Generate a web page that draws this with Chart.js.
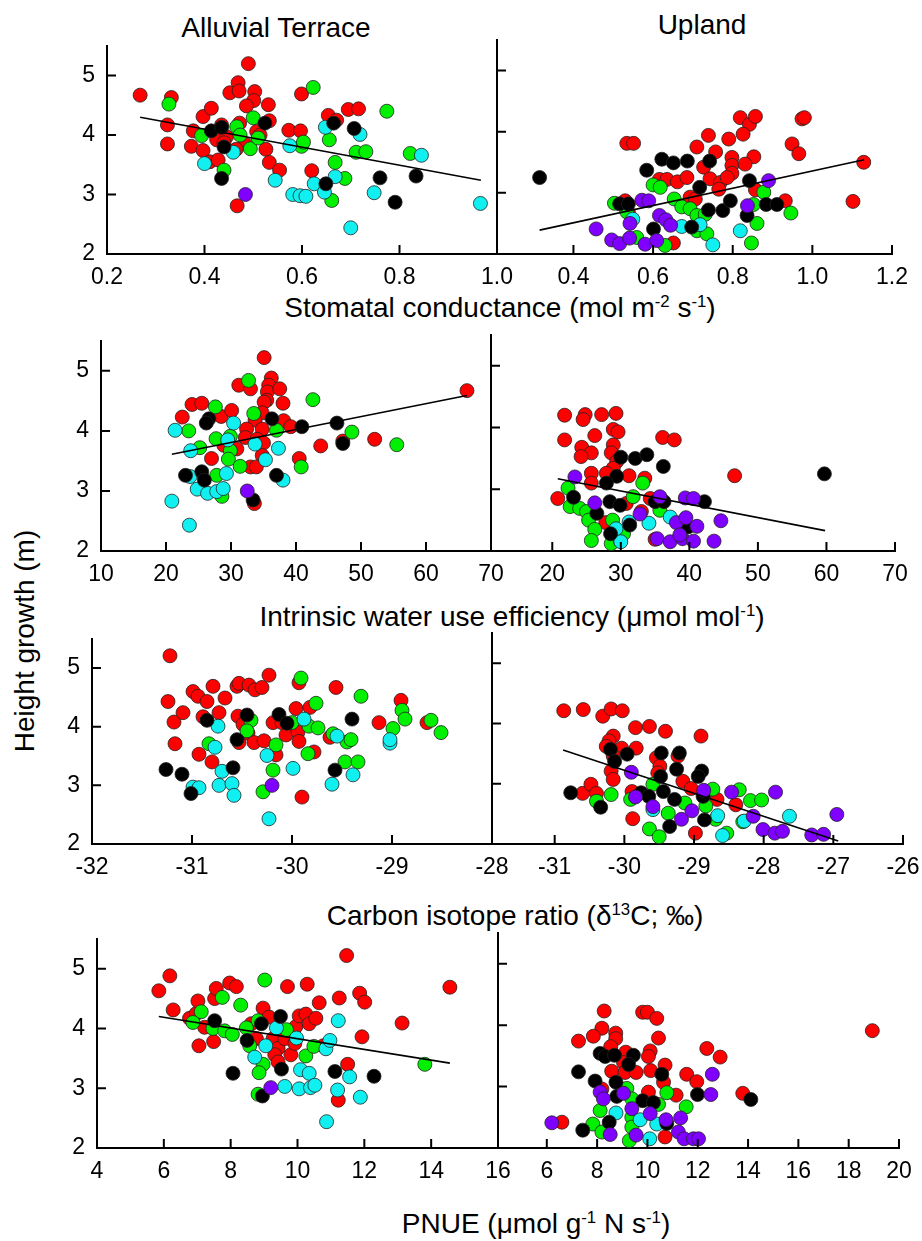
<!DOCTYPE html>
<html lang="en">
<head>
  <meta charset="UTF-8">
  <title>Height growth vs leaf traits</title>
  <script src="https://cdn.jsdelivr.net/npm/chart.js"></script>
  <style>
    body {
      margin: 0;
      background: #fff;
      font-family: "Liberation Sans", Arial, sans-serif;
    }

    #page {
      position: relative;
      width: 922px;
      height: 1241px;
      overflow: hidden;
    }

    canvas {
      position: absolute;
    }

    .label {
      position: absolute;
      transform: translate(-50%, -50%);
      font-size: 28px;
      line-height: 1;
      white-space: nowrap;
      color: #000;
    }

    .label sup {
      font-size: 0.6em;
      position: relative;
      top: -0.6em;
      vertical-align: baseline;
    }

    .ytitle {
      transform: translate(-50%, -50%) rotate(-90deg);
    }
  </style>
</head>
<body>
<div id="page">
  <div class="label" style="left:276px; top:28px;">Alluvial Terrace</div>
  <div class="label" style="left:702px; top:25px;">Upland</div>
  <div class="label ytitle" style="left:25px; top:641px;">Height growth (m)</div>
  <div class="label" style="left:500px; top:308px;">Stomatal conductance (mol m<sup>-2</sup> s<sup>-1</sup>)</div>
  <div class="label" style="left:512px; top:617px;">Intrinsic water use efficiency (μmol mol<sup>-1</sup>)</div>
  <div class="label" style="left:515px; top:916px;">Carbon isotope ratio (δ<sup>13</sup>C; ‰)</div>
  <div class="label" style="left:536px; top:1224px;">PNUE (μmol g<sup>-1</sup> N s<sup>-1</sup>)</div>

  <canvas id="atGs"></canvas>
  <canvas id="upGs"></canvas>
  <canvas id="atWue"></canvas>
  <canvas id="upWue"></canvas>
  <canvas id="atD13c"></canvas>
  <canvas id="upD13c"></canvas>
  <canvas id="atPnue"></canvas>
  <canvas id="upPnue"></canvas>
</div>

<script>
  // tick values
  const heightTicks = [2, 3, 4, 5];
  const gsTicksAT = [0.2, 0.4, 0.6, 0.8, 1.0];
  const gsTicksUP = [0.4, 0.6, 0.8, 1.0, 1.2];
  const wueTicksAT = [10, 20, 30, 40, 50, 60, 70];
  const wueTicksUP = [20, 30, 40, 50, 60, 70];
  const d13cTicksAT = [-32, -31, -30, -29, -28];
  const d13cTicksUP = [-31, -30, -29, -28, -27, -26];
  const pnueTicksAT = [4, 6, 8, 10, 12, 14, 16];
  const pnueTicksUP = [6, 8, 10, 12, 14, 16, 18, 20];

  // stomatal conductance, alluvial terrace
  const atGsRed = [[0.268,4.67],[0.332,4.63],[0.324,4.17],[0.324,3.85],[0.377,4.07],[0.373,3.81],[0.397,4.31],[0.414,4.45],[0.397,3.74],[0.411,3.55],[0.428,3.58],[0.425,3.92],[0.435,4.17],[0.445,3.97],[0.452,4.71],[0.469,4.88],[0.471,4.74],[0.49,5.2],[0.503,4.73],[0.501,4.58],[0.486,4.49],[0.483,3.85],[0.472,4.2],[0.465,3.76],[0.467,2.81],[0.507,4.06],[0.514,4.0],[0.533,4.24],[0.531,4.51],[0.526,3.76],[0.533,3.54],[0.554,3.41],[0.573,4.08],[0.597,4.07],[0.599,4.69],[0.62,3.4],[0.654,4.33],[0.671,4.25],[0.695,4.43],[0.716,4.44],[0.44,3.87]];
  const atGsGreen = [[0.327,4.52],[0.394,3.99],[0.44,3.41],[0.466,4.14],[0.473,4.0],[0.5,4.29],[0.494,3.77],[0.51,3.95],[0.623,4.8],[0.599,3.81],[0.603,3.88],[0.656,3.92],[0.668,3.54],[0.661,2.9],[0.688,3.27],[0.711,3.71],[0.731,3.72],[0.774,4.4],[0.822,3.69]];
  const atGsCyan = [[0.4,3.52],[0.459,3.71],[0.545,3.24],[0.575,3.82],[0.581,3.0],[0.596,2.98],[0.608,2.97],[0.625,3.18],[0.648,4.13],[0.646,3.04],[0.668,3.3],[0.7,2.44],[0.719,4.01],[0.748,3.03],[0.845,3.66],[0.966,2.85]];
  const atGsBlack = [[0.414,4.07],[0.435,4.13],[0.44,3.8],[0.435,3.27],[0.524,4.2],[0.649,3.18],[0.665,4.2],[0.707,4.11],[0.76,3.28],[0.791,2.87],[0.834,3.31]];
  const atGsPurple = [[0.484,3.0]];
  const atGsFit = [[0.268,4.30],[0.967,3.24]];

  // stomatal conductance, upland
  const upGsRed = [[0.534,3.81],[0.551,3.81],[0.616,3.22],[0.635,3.22],[0.661,3.18],[0.685,3.25],[0.71,3.75],[0.739,3.94],[0.757,3.67],[0.727,3.42],[0.743,3.23],[0.769,3.17],[0.765,3.06],[0.79,3.88],[0.798,3.58],[0.798,3.45],[0.798,3.32],[0.786,3.25],[0.819,4.23],[0.842,4.12],[0.857,4.25],[0.826,3.96],[0.853,3.59],[0.831,3.47],[0.857,3.05],[0.949,3.8],[0.966,3.64],[0.974,4.21],[0.98,4.23],[1.129,3.5],[1.102,2.86],[0.932,2.87],[0.693,2.93],[0.706,2.9],[0.651,2.18],[0.538,2.68],[0.53,2.87]];
  const upGsGreen = [[0.6,3.13],[0.618,3.09],[0.503,2.83],[0.653,2.9],[0.672,2.77],[0.693,2.74],[0.71,2.63],[0.731,2.65],[0.71,2.38],[0.735,2.33],[0.559,2.27],[0.63,2.14],[0.861,2.5],[0.847,2.18],[0.878,3.01],[0.946,2.67],[0.852,2.81],[0.534,2.69]];
  const upGsCyan = [[0.549,2.57],[0.672,2.45],[0.718,2.48],[0.75,2.15],[0.819,2.38]];
  const upGsBlack = [[0.315,3.25],[0.516,2.82],[0.538,2.82],[0.584,3.37],[0.622,3.55],[0.651,3.49],[0.686,3.52],[0.742,3.52],[0.717,3.09],[0.601,2.41],[0.697,2.44],[0.739,2.72],[0.775,2.71],[0.794,2.87],[0.836,2.63],[0.842,3.2],[0.884,2.81],[0.911,2.81]];
  const upGsPurple = [[0.457,2.41],[0.496,2.23],[0.516,2.17],[0.541,2.26],[0.542,2.5],[0.572,2.88],[0.589,2.87],[0.58,2.16],[0.609,2.22],[0.616,2.63],[0.632,2.56],[0.644,2.47],[0.837,2.79],[0.89,3.2]];
  const upGsFit = [[0.315,2.39],[1.13,3.54]];

  // intrinsic WUE, alluvial terrace
  const atWueRed = [[35.1,5.22],[36.2,4.88],[35.8,4.76],[35.6,4.65],[35.5,4.51],[35.1,4.48],[37.5,4.7],[38.0,4.46],[31.2,4.76],[33.0,4.7],[24.0,4.44],[25.5,4.46],[22.5,4.23],[28.5,4.24],[30.1,4.34],[34.8,4.3],[33.7,4.18],[32.4,4.03],[34.8,4.03],[32.2,3.89],[34.0,3.86],[35.0,3.8],[38.1,4.17],[39.2,4.07],[30.9,3.7],[28.9,3.76],[27.0,3.54],[34.8,3.59],[33.0,3.4],[33.9,3.4],[40.5,3.54],[43.8,3.75],[47.2,3.83],[52.1,3.86],[66.3,4.67],[33.6,2.79]];
  const atWueGreen = [[32.7,4.84],[27.6,4.4],[23.5,4.0],[25.2,3.72],[27.7,3.87],[29.9,3.91],[29.9,3.67],[29.6,3.53],[31.4,3.41],[27.8,3.26],[28.6,2.91],[33.5,4.29],[37.0,4.01],[42.6,4.52],[48.6,3.98],[55.5,3.77],[40.8,3.4]];
  const atWueCyan = [[21.4,4.01],[30.4,4.13],[29.5,3.85],[23.8,3.67],[33.7,3.78],[37.3,3.71],[35.3,3.52],[23.7,3.24],[29.3,3.29],[24.8,3.03],[26.4,2.96],[27.8,2.99],[28.8,3.04],[38.0,3.18],[20.9,2.83],[23.6,2.43]];
  const atWueBlack = [[26.6,4.2],[26.2,4.13],[36.3,4.2],[40.9,4.07],[46.3,4.13],[47.2,3.79],[23.0,3.26],[25.5,3.32],[25.9,3.18],[37.0,3.26],[33.4,2.85]];
  const atWuePurple = [[32.5,3.0]];
  const atWueFit = [[20.9,3.61],[66.3,4.59]];

  // intrinsic WUE, upland
  const upWueRed = [[21.8,4.2],[24.8,4.21],[24.5,4.13],[27.2,4.21],[29.3,4.23],[21.8,3.8],[26.2,3.87],[28.9,3.97],[29.6,3.93],[24.3,3.68],[25.7,3.59],[24.2,3.53],[28.9,3.72],[28.6,3.59],[29.4,3.45],[28.9,3.34],[25.7,3.26],[25.7,3.1],[27.9,3.26],[31.2,3.22],[33.5,3.18],[20.8,2.85],[36.1,3.84],[37.8,3.8],[46.6,3.22],[27.8,2.46],[35.0,2.19],[33.0,2.64],[30.8,2.77],[34.3,2.85]];
  const upWueGreen = [[22.3,3.02],[22.6,2.72],[24.0,2.69],[25.0,2.64],[25.3,2.5],[26.2,2.35],[25.7,2.17],[28.6,2.12],[29.9,2.17],[30.4,2.28],[31.8,2.88],[33.2,3.1],[35.7,2.66],[28.8,2.5]];
  const upWueCyan = [[29.3,2.36],[31.2,2.47],[34.1,2.45],[37.2,2.55],[30.0,2.15]];
  const upWueBlack = [[30.0,3.52],[32.1,3.5],[33.8,3.56],[36.2,3.37],[29.4,3.21],[27.9,3.1],[23.1,2.87],[28.4,2.8],[29.9,2.74],[26.5,2.61],[35.0,2.8],[36.3,2.8],[42.2,2.8],[39.8,2.39],[28.5,2.28],[31.3,2.42],[59.7,3.25]];
  const upWuePurple = [[23.3,3.2],[26.2,2.78],[35.7,2.88],[39.4,2.86],[40.6,2.85],[32.8,2.6],[38.1,2.46],[39.5,2.54],[41.1,2.4],[44.6,2.49],[35.3,2.2],[37.2,2.15],[39.0,2.2],[40.6,2.16],[43.6,2.16],[38.6,2.26]];
  const upWueFit = [[20.8,3.17],[59.8,2.33]];

  // carbon isotope ratio, alluvial terrace
  const atD13cRed = [[-31.22,5.21],[-31.24,4.43],[-31.18,4.08],[-31.09,4.24],[-31.17,3.71],[-30.99,4.6],[-30.94,4.52],[-30.85,4.43],[-30.79,4.69],[-30.67,4.49],[-30.89,4.17],[-30.73,4.24],[-30.93,3.53],[-30.8,3.4],[-30.55,4.69],[-30.53,4.74],[-30.43,4.71],[-30.37,4.63],[-30.3,4.67],[-30.23,4.88],[-30.54,4.18],[-30.49,4.04],[-30.44,3.89],[-30.53,3.73],[-30.38,3.73],[-30.28,3.76],[-30.19,4.07],[-30.1,4.07],[-30.06,3.86],[-30.16,3.52],[-29.96,4.31],[-29.94,3.91],[-29.93,3.75],[-29.93,4.75],[-29.82,4.33],[-29.78,3.57],[-29.9,2.8],[-29.62,3.82],[-29.56,4.67],[-29.13,4.07],[-28.91,4.45],[-28.65,4.07]];
  const atD13cGreen = [[-30.83,3.71],[-30.41,4.11],[-30.45,3.93],[-30.16,3.69],[-30.19,3.26],[-30.29,2.89],[-30.0,4.07],[-29.91,4.83],[-29.76,4.4],[-29.83,4.01],[-29.74,3.98],[-29.84,3.54],[-29.59,3.88],[-29.45,3.74],[-29.41,3.78],[-29.31,4.52],[-29.47,3.4],[-29.34,3.4],[-28.99,3.97],[-28.9,4.28],[-28.87,4.13],[-28.61,4.11],[-28.51,3.9]];
  const atD13cCyan = [[-30.74,4.01],[-30.77,3.65],[-30.7,3.24],[-30.99,2.97],[-30.93,2.96],[-30.73,3.0],[-30.6,3.03],[-30.58,2.83],[-30.25,3.51],[-29.99,3.29],[-30.23,2.43],[-29.88,4.13],[-29.6,3.02],[-29.55,3.84],[-29.39,3.18],[-29.02,3.72],[-29.02,3.78]];
  const atD13cBlack = [[-31.26,3.27],[-31.1,3.19],[-31.01,2.86],[-30.85,4.11],[-30.55,3.78],[-30.45,4.2],[-30.59,3.3],[-30.13,4.21],[-30.05,4.06],[-29.57,3.26],[-29.4,4.13]];
  const atD13cPurple = [[-30.2,3.0]];

  // carbon isotope ratio, upland
  const upD13cRed = [[-30.87,4.21],[-30.59,4.23],[-30.31,4.12],[-30.19,4.24],[-30.03,4.21],[-29.84,3.93],[-29.64,3.95],[-29.41,3.87],[-28.9,3.79],[-30.16,3.79],[-30.22,3.71],[-30.26,3.62],[-30.04,3.59],[-29.83,3.59],[-30.16,3.46],[-30.19,3.21],[-30.16,3.07],[-29.54,3.43],[-29.49,3.29],[-29.52,3.18],[-29.23,3.46],[-29.16,3.04],[-29.04,2.92],[-30.6,2.84],[-30.48,2.99],[-30.4,2.84],[-29.89,2.87],[-29.88,2.42],[-28.98,2.18],[-28.67,2.74],[-28.4,2.65]];
  const upD13cGreen = [[-30.19,2.82],[-30.4,2.71],[-29.91,2.74],[-29.59,2.99],[-29.37,2.51],[-29.64,2.25],[-29.5,2.12],[-29.13,2.68],[-28.73,2.91],[-28.83,2.63],[-28.69,2.41],[-28.53,2.18],[-28.35,2.9],[-28.19,2.72],[-28.03,2.73],[-28.3,2.37]];
  const upD13cCyan = [[-29.59,2.57],[-28.66,2.47],[-28.59,2.14],[-28.28,2.38],[-27.63,2.46]];
  const upD13cBlack = [[-30.77,2.85],[-30.34,2.61],[-30.2,3.57],[-30.14,3.37],[-29.96,3.49],[-29.47,3.51],[-29.21,3.51],[-29.25,3.24],[-29.48,3.12],[-29.44,2.87],[-29.76,2.85],[-29.65,2.79],[-29.28,2.74],[-28.89,3.21],[-28.94,3.12],[-28.85,2.4],[-29.35,2.29],[-28.87,2.79]];
  const upD13cPurple = [[-29.9,3.19],[-29.84,2.78],[-29.59,2.62],[-29.18,2.41],[-29.03,2.55],[-28.86,2.89],[-28.46,2.86],[-28.15,2.46],[-28.01,2.24],[-27.84,2.18],[-27.73,2.21],[-27.83,2.86],[-27.31,2.15],[-27.14,2.16],[-26.95,2.49]];
  const upD13cFit = [[-30.88,3.56],[-26.93,2.05]];

  // PNUE, alluvial terrace
  const atPnueRed = [[5.85,4.63],[6.18,4.88],[6.28,4.31],[6.77,4.17],[6.97,4.25],[7.02,4.46],[7.05,3.71],[7.22,4.02],[7.49,3.78],[7.52,4.5],[7.57,4.67],[7.97,4.76],[8.17,4.7],[8.62,4.08],[8.77,3.83],[8.97,4.34],[9.15,4.19],[9.27,3.83],[9.42,3.67],[9.32,3.56],[9.42,3.44],[9.62,3.83],[9.7,4.7],[9.8,3.56],[9.92,3.75],[9.95,4.03],[10.05,4.21],[10.25,4.24],[10.29,4.74],[10.35,4.08],[10.55,4.17],[10.65,4.43],[10.77,3.71],[11.25,4.51],[11.47,5.22],[11.5,3.4],[11.22,2.8],[11.86,4.59],[12.01,4.44],[11.93,3.86],[13.13,4.09],[14.56,4.69]];
  const atPnueGreen = [[7.12,4.28],[6.87,4.1],[7.47,4.0],[7.75,4.52],[7.82,3.96],[8.05,3.9],[8.3,4.39],[8.47,4.01],[8.57,3.71],[8.82,4.13],[9.02,4.81],[8.97,3.4],[8.85,3.26],[8.82,2.9],[9.67,3.98],[10.25,3.54],[10.49,3.7],[13.81,3.4]];
  const atPnueCyan = [[8.72,3.52],[9.05,3.71],[9.37,4.01],[9.62,3.03],[9.97,3.84],[10.09,3.31],[10.35,3.25],[10.05,2.99],[10.39,3.01],[10.52,3.05],[10.85,3.66],[10.97,3.8],[11.22,4.13],[11.2,2.97],[11.56,3.19],[11.88,2.85],[10.87,2.44]];
  const atPnueBlack = [[7.52,4.13],[8.49,3.8],[8.92,4.08],[9.49,4.2],[9.52,3.32],[8.07,3.25],[8.95,2.87],[11.12,3.28],[12.29,3.2]];
  const atPnuePurple = [[9.2,3.01]];
  const atPnueFit = [[5.85,4.2],[14.56,3.42]];

  // PNUE, upland
  const upPnueRed = [[8.28,4.23],[9.81,4.21],[10.0,4.21],[10.37,4.11],[8.19,3.95],[7.85,3.82],[7.26,3.74],[8.74,3.87],[8.74,3.78],[10.44,3.79],[8.54,3.65],[9.14,3.56],[10.11,3.58],[10.04,3.49],[12.36,3.62],[12.89,3.48],[8.58,3.25],[9.05,3.39],[9.11,3.23],[9.55,3.23],[10.13,3.26],[10.7,3.35],[10.64,3.07],[11.56,3.2],[11.96,3.08],[11.14,2.86],[13.79,2.89],[18.94,3.91],[6.6,2.42],[10.7,2.18],[10.04,2.91],[8.19,2.96]];
  const upPnueGreen = [[8.12,2.61],[7.83,2.39],[8.19,2.26],[9.18,2.97],[9.38,2.8],[9.38,2.5],[9.38,2.34],[9.28,2.12],[10.77,2.9],[10.44,2.71],[11.54,2.67]];
  const upPnueCyan = [[8.75,2.57],[9.71,2.46],[10.37,2.39],[10.09,2.15]];
  const upPnueBlack = [[8.12,3.54],[8.32,3.49],[8.69,3.51],[9.44,3.51],[9.25,3.36],[7.26,3.24],[7.92,3.09],[8.75,3.07],[10.57,3.2],[11.99,2.87],[14.11,2.79],[9.81,2.77],[10.24,2.74],[8.78,2.84],[8.48,2.42],[7.43,2.29],[10.77,2.4]];
  const upPnuePurple = [[6.2,2.41],[8.12,2.91],[8.25,2.8],[9.05,2.89],[9.38,2.64],[10.11,2.56],[10.74,2.46],[8.52,2.22],[9.55,2.21],[11.32,2.49],[11.23,2.26],[11.46,2.15],[11.83,2.15],[12.03,2.15],[12.58,3.2],[12.52,2.87]];

  const RED = '#ff0000', GREEN = '#00f000', CYAN = '#10f0f0', BLACK = '#000000', PURPLE = '#8000ff';

  // short ticks pointing into the plot
  const inwardTicks = {
    id: 'inwardTicks',
    afterDraw(chart, args, opts) {
      const { ctx, chartArea, scales } = chart;
      ctx.save();
      ctx.strokeStyle = '#000';
      ctx.lineWidth = 2;
      ctx.beginPath();
      (opts.x || []).forEach(v => {
        const px = scales.x.getPixelForValue(v);
        ctx.moveTo(px, chartArea.bottom);
        ctx.lineTo(px, chartArea.bottom - 9);
      });
      (opts.y || []).forEach(v => {
        const py = scales.y.getPixelForValue(v);
        ctx.moveTo(chartArea.left, py);
        ctx.lineTo(chartArea.left + 9, py);
      });
      ctx.stroke();
      ctx.restore();
    }
  };

  const tickFont = { family: 'Liberation Sans', size: 23 };

  function makePanel(id, box, xMin, xMax, xTicks, xMarks, yLabels, groups, fit, fmt) {
    const padL = 70, padT = 20, padR = 30, padB = 50;
    const cv = document.getElementById(id);
    cv.width = box.r - box.l + padL + padR;
    cv.height = box.b - box.t + padT + padB;
    cv.style.left = (box.l - padL) + 'px';
    cv.style.top = (box.t - padT) + 'px';

    const datasets = [];
    if (fit) {
      datasets.push({
        data: fit.map(([x, y]) => ({ x, y })),
        showLine: true,
        borderColor: '#000',
        borderWidth: 1.6,
        pointRadius: 0,
        clip: false
      });
    }
    groups.forEach(([pts, colour]) => {
      datasets.push({
        data: pts.map(([x, y]) => ({ x, y })),
        backgroundColor: colour,
        borderColor: '#222',
        borderWidth: 0.8,
        pointRadius: 7,
        clip: false
      });
    });

    return new Chart(cv, {
      type: 'scatter',
      data: { datasets },
      plugins: [inwardTicks],
      options: {
        responsive: false,
        animation: false,
        events: [],
        layout: { padding: { left: 0, top: padT, right: padR, bottom: 0 } },
        plugins: {
          legend: { display: false },
          tooltip: { enabled: false },
          inwardTicks: { x: xMarks, y: [3, 4, 5] }
        },
        scales: {
          x: {
            type: 'linear',
            min: xMin,
            max: xMax,
            afterBuildTicks: axis => { axis.ticks = xTicks.map(v => ({ value: v })); },
            afterFit: axis => { axis.height = padB; },
            grid: { display: false, drawTicks: false },
            border: { display: true, color: '#000', width: 2 },
            ticks: {
              color: '#000',
              font: tickFont,
              padding: 10,
              autoSkip: false,
              maxRotation: 0,
              callback: v => fmt(v)
            }
          },
          y: {
            type: 'linear',
            min: 2,
            max: 5.5,
            afterBuildTicks: axis => { axis.ticks = heightTicks.map(v => ({ value: v })); },
            afterFit: axis => { axis.width = padL; },
            grid: { display: false, drawTicks: false },
            border: { display: true, color: '#000', width: 2 },
            ticks: {
              display: yLabels,
              color: '#000',
              font: tickFont,
              padding: 12,
              callback: v => String(v)
            }
          }
        }
      }
    });
  }

  const oneDecimal = v => v.toFixed(1);
  const plain = v => String(v);

  makePanel('atGs', { l: 107, r: 497, t: 40, b: 254 }, 0.2, 1.0, gsTicksAT, [0.4, 0.6, 0.8], true,
    [[atGsPurple, PURPLE], [atGsBlack, BLACK], [atGsCyan, CYAN], [atGsGreen, GREEN], [atGsRed, RED]], atGsFit, oneDecimal);
  makePanel('upGs', { l: 497, r: 892, t: 40, b: 254 }, 0.208, 1.2, gsTicksUP, gsTicksUP, false,
    [[upGsPurple, PURPLE], [upGsBlack, BLACK], [upGsCyan, CYAN], [upGsGreen, GREEN], [upGsRed, RED]], upGsFit, oneDecimal);

  makePanel('atWue', { l: 101, r: 491, t: 335, b: 551 }, 10, 70, wueTicksAT, [20, 30, 40, 50, 60], true,
    [[atWuePurple, PURPLE], [atWueBlack, BLACK], [atWueCyan, CYAN], [atWueGreen, GREEN], [atWueRed, RED]], atWueFit, plain);
  makePanel('upWue', { l: 491, r: 895, t: 335, b: 551 }, 11.06, 70, wueTicksUP, wueTicksUP, false,
    [[upWuePurple, PURPLE], [upWueBlack, BLACK], [upWueCyan, CYAN], [upWueGreen, GREEN], [upWueRed, RED]], upWueFit, plain);

  makePanel('atD13c', { l: 92, r: 492, t: 633, b: 844 }, -32, -28, d13cTicksAT, [-31, -30, -29], true,
    [[atD13cPurple, PURPLE], [atD13cBlack, BLACK], [atD13cCyan, CYAN], [atD13cGreen, GREEN], [atD13cRed, RED]], null, plain);
  makePanel('upD13c', { l: 492, r: 903, t: 633, b: 844 }, -31.9, -26, d13cTicksUP, d13cTicksUP, false,
    [[upD13cPurple, PURPLE], [upD13cBlack, BLACK], [upD13cCyan, CYAN], [upD13cGreen, GREEN], [upD13cRed, RED]], upD13cFit, plain);

  makePanel('atPnue', { l: 97, r: 498, t: 933, b: 1148 }, 4, 16, pnueTicksAT, [6, 8, 10, 12, 14], true,
    [[atPnuePurple, PURPLE], [atPnueBlack, BLACK], [atPnueCyan, CYAN], [atPnueGreen, GREEN], [atPnueRed, RED]], atPnueFit, plain);
  makePanel('upPnue', { l: 498, r: 899, t: 933, b: 1148 }, 4.06, 20, pnueTicksUP, pnueTicksUP, false,
    [[upPnuePurple, PURPLE], [upPnueBlack, BLACK], [upPnueCyan, CYAN], [upPnueGreen, GREEN], [upPnueRed, RED]], null, plain);
</script>
</body>
</html>
